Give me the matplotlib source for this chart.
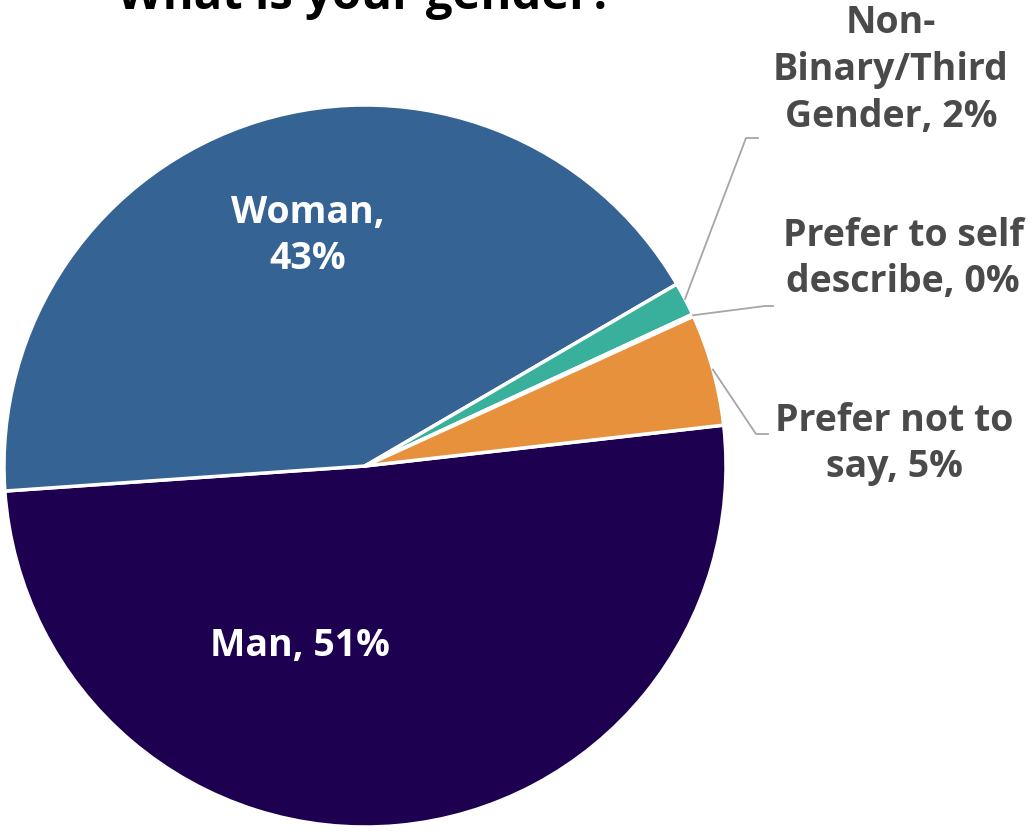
import numpy as np
import matplotlib.pyplot as plt

plt.rcParams['font.family'] = ['Open Sans', 'DejaVu Sans']

labels = ['Man', 'Woman', 'Non-\nBinary/Third\nGender', 'Prefer to self\ndescribe', 'Prefer not to\nsay']
shown_pct = ['51%', '43%', '2%', '0%', '5%']
values = [50.7, 42.7, 1.5, 0.1, 5.0]
colors = ['#1e0050', '#356393', '#38b09b', '#38b09b', '#e8913d']

W, H = 1032, 831
cx, cy, r = 365, 466, 361

fig = plt.figure(figsize=(W / 100, H / 100), dpi=100)
ax = fig.add_axes([(cx - r) / W, (H - cy - r) / H, 2 * r / W, 2 * r / H])

wedges, _ = ax.pie(values, colors=colors, startangle=6.5, counterclock=False,
                   radius=1, wedgeprops=dict(edgecolor='white', linewidth=2.5))
ax.set_xlim(-1, 1)
ax.set_ylim(-1, 1)
ax.axis('off')

def px(x, y):
    return (x - cx) / r, (cy - y) / r

fs = 27
# inside labels
ax.text(*px(308, 236), labels[1] + ',\n' + shown_pct[1], color='white', fontsize=fs,
        fontweight='bold', ha='center', va='center', linespacing=1.3)
ax.text(*px(300, 646), labels[0] + ', ' + shown_pct[0], color='white', fontsize=fs,
        fontweight='bold', ha='center', va='center')

# outside labels with leader lines
gray = '#4a4a4a'
outside = [
    (2, (891, 70), [(746, 138), (758, 138)]),
    (3, (903, 259), [(765, 306), (773, 306)]),
    (4, (894, 444), [(756, 434), (768, 434)]),
]
for i, (tx, ty), elbow in outside:
    w = wedges[i]
    mid = np.deg2rad((w.theta1 + w.theta2) / 2)
    xs = [np.cos(mid)] + [px(*p)[0] for p in elbow]
    ys = [np.sin(mid)] + [px(*p)[1] for p in elbow]
    ax.plot(xs, ys, color='#a6a6a6', lw=1.3, clip_on=False)
    ax.text(*px(tx, ty), labels[i] + ', ' + shown_pct[i], color=gray, fontsize=fs,
            fontweight='bold', ha='center', va='center', linespacing=1.3)

fig.text(cx / W, 1 - 9 / H, 'What is your gender?', fontsize=34, fontweight='bold',
         color='black', ha='center', va='baseline')

fig.savefig('out.png', dpi=100)
